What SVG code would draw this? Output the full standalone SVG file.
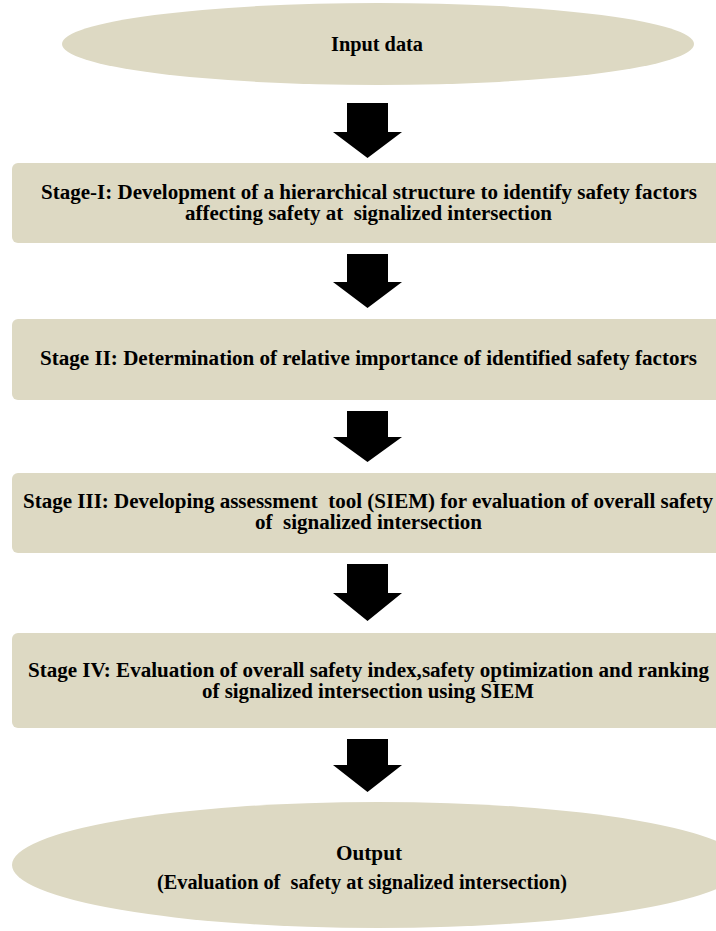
<svg xmlns="http://www.w3.org/2000/svg" width="716" height="931" viewBox="0 0 716 931" xml:space="preserve">
<style>
.node{fill:#DDD9C3;}
.lbl{font-family:"Liberation Serif","Times New Roman",serif;font-weight:bold;font-size:20px;fill:#000;text-anchor:middle;white-space:pre;}
.arrow{fill:#000;}
</style>
<rect width="716" height="931" fill="#ffffff"/>
<g id="connectors">
<polygon class="arrow" points="347,103 388,103 388,132 402,132 367.5,158 333,132 347,132"/>
<polygon class="arrow" points="347,254 388,254 388,282 402,282 367.5,308 333,282 347,282"/>
<polygon class="arrow" points="347,411 388,411 388,437 402,437 367.5,462 333,437 347,437"/>
<polygon class="arrow" points="347,564 388,564 388,593 402,593 367.5,621 333,593 347,593"/>
<polygon class="arrow" points="347,739 388,739 388,765 402,765 367.5,792 333,765 347,765"/>
</g>
<g id="input">
<ellipse class="node" cx="378" cy="44" rx="316" ry="41"/>
<text class="lbl" x="377" y="51" textLength="92" lengthAdjust="spacingAndGlyphs">Input data</text>
</g>
<g id="stage1">
<rect class="node" x="12" y="163" width="712" height="80" rx="6"/>
<text class="lbl" x="369" y="199" textLength="656" lengthAdjust="spacingAndGlyphs">Stage-I: Development of a hierarchical structure to identify safety factors</text>
<text class="lbl" x="368.5" y="220" textLength="367" lengthAdjust="spacingAndGlyphs">affecting safety at  signalized intersection</text>
</g>
<g id="stage2">
<rect class="node" x="12" y="319" width="712" height="81" rx="6"/>
<text class="lbl" x="368.5" y="365" textLength="657" lengthAdjust="spacingAndGlyphs">Stage II: Determination of relative importance of identified safety factors</text>
</g>
<g id="stage3">
<rect class="node" x="12" y="473" width="712" height="80" rx="6"/>
<text class="lbl" x="368" y="508" textLength="690" lengthAdjust="spacingAndGlyphs">Stage III: Developing assessment  tool (SIEM) for evaluation of overall safety</text>
<text class="lbl" x="368.5" y="529" textLength="227" lengthAdjust="spacingAndGlyphs">of  signalized intersection</text>
</g>
<g id="stage4">
<rect class="node" x="12" y="633" width="712" height="95" rx="6"/>
<text class="lbl" x="368.5" y="677" textLength="681" lengthAdjust="spacingAndGlyphs">Stage IV: Evaluation of overall safety index,safety optimization and ranking</text>
<text class="lbl" x="368" y="698" textLength="332" lengthAdjust="spacingAndGlyphs">of signalized intersection using SIEM</text>
</g>
<g id="output">
<ellipse class="node" cx="378" cy="865" rx="366" ry="63"/>
<text class="lbl" x="369" y="860" textLength="66" lengthAdjust="spacingAndGlyphs">Output</text>
<text class="lbl" x="362" y="889" textLength="410" lengthAdjust="spacingAndGlyphs">(Evaluation of  safety at signalized intersection)</text>
</g>
</svg>
